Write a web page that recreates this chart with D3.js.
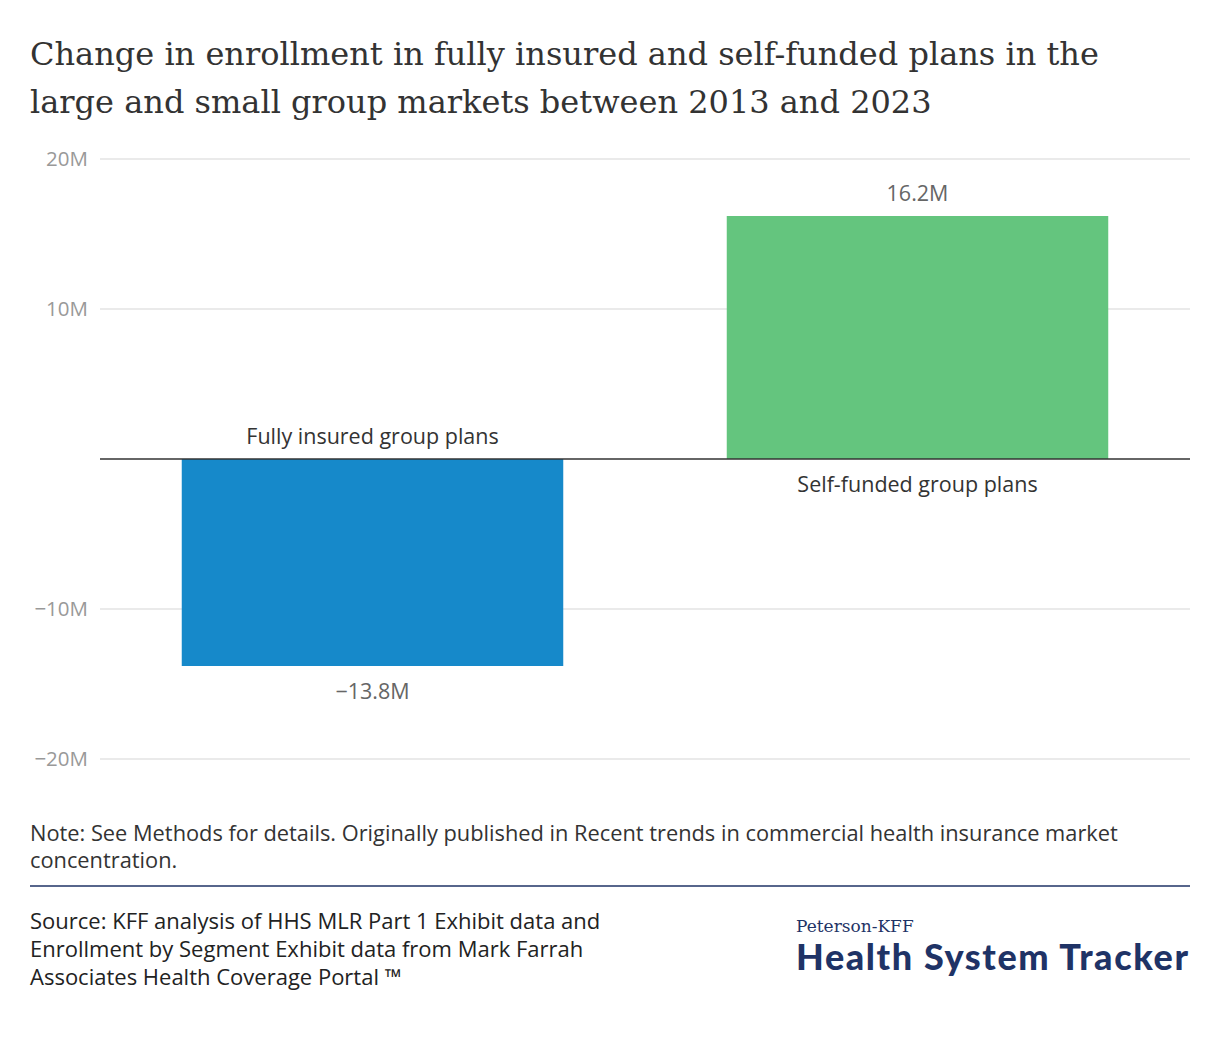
<!DOCTYPE html>
<html>
<head>
<meta charset="utf-8">
<script src="https://cdn.jsdelivr.net/npm/d3@7"></script>
<style>
  body { margin: 0; background: #fff; }
  text { font-family: "Open Sans", "Noto Sans", sans-serif; }
</style>
</head>
<body>
<div id="chart"></div>
<script>
// data
const categories = ["Fully insured group plans", "Self-funded group plans"];
const values = [-13.8, 16.2];           // millions
const barColors = ["#1689ca", "#64c57e"];
const valueLabels = ["\u221213.8M", "16.2M"];
const yTicks = [-20, -10, 0, 10, 20];
const yTickLabels = ["\u221220M", "\u221210M", "", "10M", "20M"];
const titleLines = [
  "Change in enrollment in fully insured and self-funded plans in the",
  "large and small group markets between 2013 and 2023"
];
const noteLines = [
  "Note: See Methods for details. Originally published in Recent trends in commercial health insurance market",
  "concentration."
];
const sourceLines = [
  "Source: KFF analysis of HHS MLR Part 1 Exhibit data and",
  "Enrollment by Segment Exhibit data from Mark Farrah",
  "Associates Health Coverage Portal \u2122"
];

const W = 1220, H = 1042;
const svg = d3.select("#chart").append("svg")
  .attr("width", W).attr("height", H);

// title
svg.append("g").selectAll("text").data(titleLines).join("text")
  .attr("x", 30).attr("y", (d, i) => 65 + i * 48)
  .attr("fill", "#333")
  .style("font-family", "'DejaVu Serif', serif")
  .style("font-size", "32px")
  .text(d => d);

// scales
const x = d3.scaleBand().domain(categories).range([100, 1190])
  .paddingInner(0.3).paddingOuter(0.15);
const y = d3.scaleLinear().domain([-20, 20]).range([759, 159]);

// gridlines
svg.append("g").selectAll("line").data(yTicks.filter(d => d !== 0)).join("line")
  .attr("x1", 100).attr("x2", 1190)
  .attr("y1", d => y(d)).attr("y2", d => y(d))
  .attr("stroke", "#e3e3e3").attr("stroke-width", 1.5);

// y axis labels
svg.append("g").selectAll("text").data(yTicks).join("text")
  .attr("x", 88).attr("y", d => y(d))
  .attr("dy", "0.35em")
  .attr("text-anchor", "end")
  .attr("fill", "#999")
  .style("font-size", "20.5px")
  .text((d, i) => yTickLabels[i]);

// bars
svg.append("g").selectAll("rect").data(values).join("rect")
  .attr("x", (d, i) => x(categories[i]))
  .attr("width", x.bandwidth())
  .attr("y", d => y(Math.max(0, d)))
  .attr("height", d => Math.abs(y(d) - y(0)))
  .attr("fill", (d, i) => barColors[i]);

// zero line
svg.append("line")
  .attr("x1", 100).attr("x2", 1190)
  .attr("y1", y(0)).attr("y2", y(0))
  .attr("stroke", "#333").attr("stroke-width", 1.5);

// value labels
svg.append("g").selectAll("text").data(values).join("text")
  .attr("x", (d, i) => x(categories[i]) + x.bandwidth() / 2)
  .attr("y", d => d < 0 ? y(d) + 33 : y(d) - 15)
  .attr("text-anchor", "middle")
  .attr("fill", "#666")
  .style("font-size", "21.5px")
  .text((d, i) => valueLabels[i]);

// category labels (opposite side of the bar)
svg.append("g").selectAll("text").data(values).join("text")
  .attr("x", (d, i) => x(categories[i]) + x.bandwidth() / 2)
  .attr("y", d => d < 0 ? y(0) - 15 : y(0) + 33)
  .attr("text-anchor", "middle")
  .attr("fill", "#333")
  .style("font-size", "21.5px")
  .text((d, i) => categories[i]);

// note
svg.append("g").selectAll("text").data(noteLines).join("text")
  .attr("x", 30).attr("y", (d, i) => 841 + i * 27)
  .attr("fill", "#333")
  .style("font-size", "21.8px")
  .text(d => d);

svg.append("line")
  .attr("x1", 30).attr("x2", 1190).attr("y1", 886).attr("y2", 886)
  .attr("stroke", "#1f3366").attr("stroke-width", 1.5);

// source
svg.append("g").selectAll("text").data(sourceLines).join("text")
  .attr("x", 30).attr("y", (d, i) => 929 + i * 28)
  .attr("fill", "#222")
  .style("font-size", "22px")
  .text(d => d);

// logo
const logo = svg.append("g");
logo.append("text")
  .attr("x", 796).attr("y", 932)
  .attr("fill", "#1f3366")
  .style("font-family", "'DejaVu Serif', serif")
  .style("font-size", "17px")
  .text("Peterson-KFF");
logo.append("text")
  .attr("x", 1188).attr("y", 970)
  .attr("text-anchor", "end")
  .attr("fill", "#1f3366")
  .style("font-family", "Lato, sans-serif")
  .style("font-size", "36px")
  .style("font-weight", "900")
  .attr("textLength", 392)
  .text("Health System Tracker");
</script>
</body>
</html>
